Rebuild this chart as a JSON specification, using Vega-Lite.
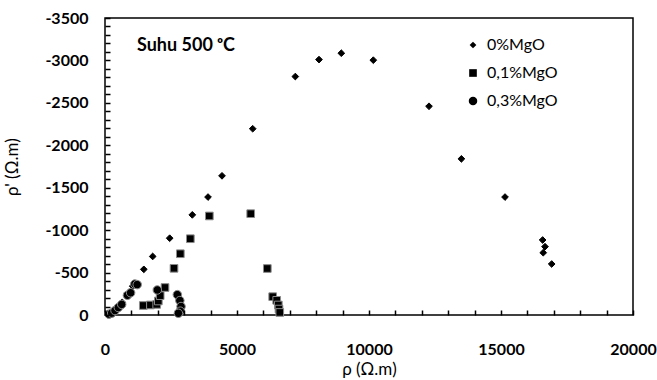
{
  "$schema": "https://vega.github.io/schema/vega-lite/v6.json",
  "width": 528,
  "height": 297,
  "autosize": "none",
  "padding": {"left": 105, "top": 18, "right": 24, "bottom": 65},
  "background": "white",
  "title": {
    "text": "Suhu 500 ᵒC",
    "orient": "top",
    "anchor": "start",
    "frame": "group",
    "baseline": "middle",
    "offset": -27,
    "dx": 32,
    "dy": 27,
    "font": "Lato",
    "fontWeight": "bold",
    "fontSize": 18,
    "color": "black"
  },
  "config": {
    "view": {"stroke": "black", "strokeWidth": 1.5},
    "font": "Lato"
  },
  "data": {
    "values": [
      {"s": "0%MgO", "rho": 300, "rhop": -40},
      {"s": "0%MgO", "rho": 650, "rhop": -150},
      {"s": "0%MgO", "rho": 1050, "rhop": -340},
      {"s": "0%MgO", "rho": 1470, "rhop": -538},
      {"s": "0%MgO", "rho": 1806, "rhop": -690},
      {"s": "0%MgO", "rho": 2450, "rhop": -905},
      {"s": "0%MgO", "rho": 3307, "rhop": -1180},
      {"s": "0%MgO", "rho": 3902, "rhop": -1390},
      {"s": "0%MgO", "rho": 4432, "rhop": -1640},
      {"s": "0%MgO", "rho": 5595, "rhop": -2195},
      {"s": "0%MgO", "rho": 7209, "rhop": -2810},
      {"s": "0%MgO", "rho": 8106, "rhop": -3010},
      {"s": "0%MgO", "rho": 8951, "rhop": -3085},
      {"s": "0%MgO", "rho": 10163, "rhop": -3003},
      {"s": "0%MgO", "rho": 12273, "rhop": -2460},
      {"s": "0%MgO", "rho": 13500, "rhop": -1840},
      {"s": "0%MgO", "rho": 15152, "rhop": -1390},
      {"s": "0%MgO", "rho": 16577, "rhop": -884},
      {"s": "0%MgO", "rho": 16667, "rhop": -805},
      {"s": "0%MgO", "rho": 16600, "rhop": -734},
      {"s": "0%MgO", "rho": 16920, "rhop": -601},
      {"s": "0,1%MgO", "rho": 1451, "rhop": -112},
      {"s": "0,1%MgO", "rho": 1720, "rhop": -118},
      {"s": "0,1%MgO", "rho": 1958, "rhop": -125},
      {"s": "0,1%MgO", "rho": 2020, "rhop": -165},
      {"s": "0,1%MgO", "rho": 2090, "rhop": -228},
      {"s": "0,1%MgO", "rho": 2273, "rhop": -324},
      {"s": "0,1%MgO", "rho": 2614, "rhop": -550},
      {"s": "0,1%MgO", "rho": 2853, "rhop": -722},
      {"s": "0,1%MgO", "rho": 3232, "rhop": -899},
      {"s": "0,1%MgO", "rho": 3952, "rhop": -1167},
      {"s": "0,1%MgO", "rho": 5519, "rhop": -1194},
      {"s": "0,1%MgO", "rho": 6148, "rhop": -548},
      {"s": "0,1%MgO", "rho": 6352, "rhop": -216},
      {"s": "0,1%MgO", "rho": 6504, "rhop": -173},
      {"s": "0,1%MgO", "rho": 6565, "rhop": -118},
      {"s": "0,1%MgO", "rho": 6591, "rhop": -70},
      {"s": "0,1%MgO", "rho": 6620, "rhop": -30},
      {"s": "0,3%MgO", "rho": 150, "rhop": -10},
      {"s": "0,3%MgO", "rho": 253, "rhop": -22},
      {"s": "0,3%MgO", "rho": 379, "rhop": -52},
      {"s": "0,3%MgO", "rho": 505, "rhop": -88},
      {"s": "0,3%MgO", "rho": 632, "rhop": -125},
      {"s": "0,3%MgO", "rho": 850, "rhop": -232},
      {"s": "0,3%MgO", "rho": 970, "rhop": -262},
      {"s": "0,3%MgO", "rho": 1130, "rhop": -365},
      {"s": "0,3%MgO", "rho": 1220, "rhop": -358},
      {"s": "0,3%MgO", "rho": 1981, "rhop": -295},
      {"s": "0,3%MgO", "rho": 2740, "rhop": -240},
      {"s": "0,3%MgO", "rho": 2835, "rhop": -170},
      {"s": "0,3%MgO", "rho": 2880, "rhop": -100},
      {"s": "0,3%MgO", "rho": 2850, "rhop": -45},
      {"s": "0,3%MgO", "rho": 2780, "rhop": -20}
    ]
  },
  "mark": {"type": "point", "filled": true, "opacity": 1, "color": "black", "strokeWidth": 1},
  "encoding": {
    "x": {
      "field": "rho", "type": "quantitative",
      "scale": {"domain": [0, 20000], "nice": false, "zero": false},
      "axis": {
        "title": "ρ (Ω.m)",
        "values": [0,1000,2000,3000,4000,5000,6000,7000,8000,9000,10000,11000,12000,13000,14000,15000,16000,17000,18000,19000,20000],
        "labelExpr": "datum.value % 5000 === 0 ? '' + datum.value : ''",
        "grid": false,
        "domain": false,
        "offset": -5,
        "zindex": 1,
        "ticks": true,
        "tickSize": 5,
        "tickWidth": 1.5,
        "tickColor": "black",
        "tickOpacity": 1,
        "labelFont": "Lato",
        "labelFontWeight": "bold",
        "labelFontSize": 16,
        "labelColor": "black",
        "labelPadding": 26,
        "labelOverlap": false,
        "labelSeparation": 0,
        "labelFlush": false,
        "labelBound": false,
        "titleFont": "Lato",
        "titleFontWeight": "normal",
        "titleFontSize": 17,
        "titleColor": "black",
        "titlePadding": 4
      }
    },
    "y": {
      "field": "rhop", "type": "quantitative",
      "scale": {"domain": [-3500, 0], "nice": false, "zero": false, "reverse": true},
      "axis": {
        "title": "ρ' (Ω.m)",
        "values": [-3500,-3400,-3300,-3200,-3100,-3000,-2900,-2800,-2700,-2600,-2500,-2400,-2300,-2200,-2100,-2000,-1900,-1800,-1700,-1600,-1500,-1400,-1300,-1200,-1100,-1000,-900,-800,-700,-600,-500,-400,-300,-200,-100,0],
        "labelExpr": "datum.value % 500 === 0 ? '' + datum.value : ''",
        "grid": false,
        "domain": false,
        "offset": -5,
        "zindex": 1,
        "ticks": true,
        "tickSize": 5,
        "tickWidth": 1.5,
        "tickColor": "black",
        "tickOpacity": 1,
        "labelFont": "Lato",
        "labelFontWeight": "bold",
        "labelFontSize": 16,
        "labelColor": "black",
        "labelPadding": 17,
        "labelOverlap": false,
        "labelSeparation": 0,
        "labelFlush": false,
        "labelBound": false,
        "titleFont": "Lato",
        "titleFontWeight": "normal",
        "titleFontSize": 17,
        "titleColor": "black",
        "titlePadding": 23
      }
    },
    "shape": {
      "field": "s", "type": "nominal",
      "scale": {"domain": ["0%MgO", "0,1%MgO", "0,3%MgO"], "range": ["diamond", "square", "circle"]},
      "legend": {
        "title": null,
        "orient": "none",
        "legendX": 360,
        "legendY": 19,
        "labelFont": "Lato",
        "labelFontSize": 16,
        "labelColor": "black",
        "rowPadding": 12,
        "labelOffset": 6,
        "symbolFillColor": "black",
        "symbolStrokeWidth": 0
      }
    },
    "size": {
      "field": "s", "type": "nominal",
      "scale": {"domain": ["0%MgO", "0,1%MgO", "0,3%MgO"], "range": [45, 72, 72]},
      "legend": {
        "title": null,
        "orient": "none",
        "legendX": 360,
        "legendY": 19
      }
    },
    "stroke": {
      "field": "s", "type": "nominal",
      "scale": {"domain": ["0%MgO", "0,1%MgO", "0,3%MgO"], "range": ["black", "#8a8a8a", "#8a8a8a"]},
      "legend": null
    }
  }
}
